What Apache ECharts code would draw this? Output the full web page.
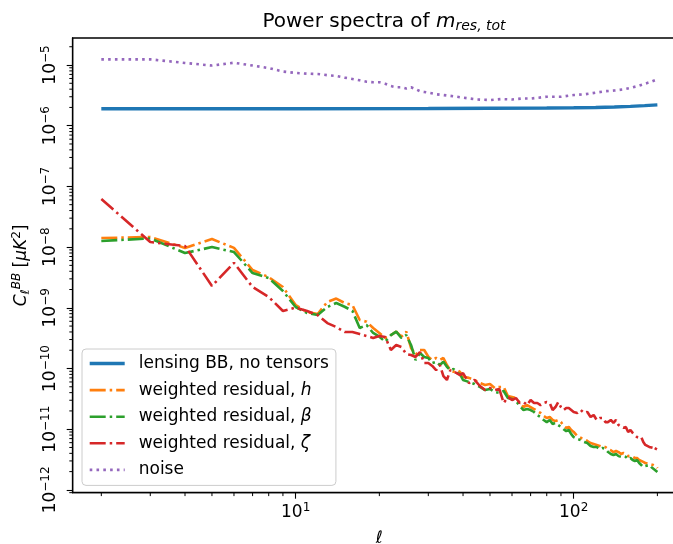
<!DOCTYPE html>
<html><head><meta charset="utf-8">
<script src="https://cdn.jsdelivr.net/npm/echarts@6/dist/echarts.min.js"></script>
<style>html,body{margin:0;padding:0;background:#fff}#c{width:673px;height:544px}</style>
</head><body><div id="c"></div>
<script>
// ---- data ----
const ellRes = [2,3,4,5,6,7,8,9,10,11,12,13,14,15,16,17,18,19,20,21,22,23,24,25,26,27,28,29,30,31,32,33,34,35,36,37,38,39,40,
  42,44,46,48,50,52,54,56,58,60,62,64,66,68,70,72,74,76,78,80,82,84,86,88,90,92,94,96,98,100,
  103,106,109,112,115,118,121,124,127,130,133,136,139,142,145,148,151,154,157,160,163,166,169,172,175,178,181,184,187,190,193,196,199,200];
const resH = [1.41e-8,1.47e-8,9.7e-9,1.36e-8,9.7e-9,4.2e-9,3.2e-9,2.2e-9,1.11e-9,
  8.5e-10,7.9e-10,1.25e-9,1.42e-9,1.2e-9,1.11e-9,6.3e-10,5.9e-10,4.65e-10,3.85e-10,
  3.18e-10,3.56e-10,4.04e-10,3.34e-10,4.04e-10,2.18e-10,1.67e-10,2.02e-10,2.02e-10,1.56e-10,
  1.38e-10,1.49e-10,1.38e-10,1.49e-10,1.14e-10,9.4e-11,8.85e-11,9.4e-11,8.8e-11,7.3e-11,
  7.0e-11,6.47e-11,5.77e-11,5.35e-11,5.56e-11,4.77e-11,4.96e-11,4.96e-11,3.52e-11,3.39e-11,
  3.26e-11,2.70e-11,2.32e-11,2.50e-11,2.32e-11,2.15e-11,1.99e-11,1.85e-11,1.65e-11,1.53e-11,
  1.59e-11,1.42e-11,1.36e-11,1.42e-11,1.31e-11,1.13e-11,1.05e-11,1.09e-11,9.7e-12,9.0e-12,
  7.7e-12,7.2e-12,6.9e-12,6.4e-12,5.9e-12,5.7e-12,5.5e-12,5.3e-12,5.1e-12,5.1e-12,
  4.7e-12,4.5e-12,4.2e-12,4.4e-12,4.2e-12,3.9e-12,4.05e-12,3.9e-12,3.6e-12,3.6e-12,
  3.5e-12,3.35e-12,3.35e-12,3.1e-12,3.0e-12,2.9e-12,2.77e-12,2.77e-12,2.67e-12,2.67e-12,
  2.57e-12,2.48e-12,2.38e-12,2.29e-12];
const resBeta = [1.26e-8,1.39e-8,8.0e-9,1.0e-8,8.3e-9,3.74e-9,3.1e-9,1.89e-9,1.03e-9,
  8.2e-10,7.6e-10,1.03e-9,1.2e-9,1.04e-9,8.9e-10,4.65e-10,5.2e-10,3.85e-10,3.34e-10,
  2.76e-10,3.56e-10,4.04e-10,3.18e-10,3.56e-10,2.44e-10,1.38e-10,1.8e-10,1.55e-10,1.49e-10,
  1.23e-10,1.29e-10,1.14e-10,1.29e-10,1.07e-10,9.4e-11,9.8e-11,8.4e-11,8.1e-11,6.47e-11,
  6.0e-11,5.56e-11,4.96e-11,4.42e-11,4.6e-11,4.1e-11,3.95e-11,4.26e-11,3.26e-11,3.14e-11,
  2.92e-11,2.41e-11,2.07e-11,2.15e-11,2.07e-11,1.92e-11,1.71e-11,1.59e-11,1.42e-11,1.31e-11,
  1.42e-11,1.22e-11,1.27e-11,1.17e-11,1.09e-11,1.0e-11,9.3e-12,9.7e-12,8.3e-12,7.4e-12,
  6.9e-12,6.6e-12,6.15e-12,5.9e-12,5.3e-12,5.1e-12,5.1e-12,4.7e-12,4.9e-12,4.7e-12,
  4.2e-12,3.9e-12,3.75e-12,3.9e-12,3.6e-12,3.5e-12,3.6e-12,3.5e-12,3.2e-12,3.35e-12,
  3.1e-12,3.0e-12,3.1e-12,2.77e-12,2.57e-12,2.38e-12,2.48e-12,2.57e-12,2.57e-12,2.38e-12,
  2.21e-12,2.13e-12,2.05e-12,1.97e-12];
const resZeta = [6.2e-8,1.21e-8,1.04e-8,2.29e-9,5.5e-9,2.2e-9,1.51e-9,8.85e-10,1.01e-9,
  8.85e-10,7.6e-10,5.6e-10,4.83e-10,4.0e-10,4.0e-10,3.7e-10,3.43e-10,3.18e-10,3.43e-10,
  3.3e-10,2.02e-10,2.44e-10,2.26e-10,1.73e-10,1.67e-10,1.55e-10,1.87e-10,1.23e-10,1.23e-10,
  1.1e-10,9.4e-11,1.14e-10,7.5e-11,6.47e-11,9.4e-11,8.8e-11,8.4e-11,7.8e-11,8.4e-11,
  5.77e-11,6.47e-11,5.15e-11,4.42e-11,4.77e-11,4.42e-11,4.6e-11,2.7e-11,3.39e-11,3.03e-11,
  3.26e-11,2.7e-11,2.8e-11,2.5e-11,3.03e-11,2.7e-11,2.7e-11,2.5e-11,2.7e-11,2.8e-11,
  2.7e-11,2.07e-11,2.32e-11,2.8e-11,2.32e-11,2.07e-11,2.23e-11,2.23e-11,2.07e-11,1.92e-11,
  1.85e-11,2.07e-11,1.85e-11,1.92e-11,1.59e-11,1.71e-11,1.42e-11,1.53e-11,1.53e-11,1.31e-11,
  1.31e-11,1.42e-11,1.27e-11,1.42e-11,1.17e-11,1.09e-11,1.05e-11,1.09e-11,9.0e-12,9.7e-12,
  8.7e-12,8.0e-12,7.4e-12,7.2e-12,7.4e-12,6.15e-12,5.5e-12,5.9e-12,5.1e-12,5.5e-12,
  4.9e-12,4.5e-12,5.1e-12,4.9e-12];
const ellLens = [2,10,30,50,80,100,120,140,160,180,200];
const lensBB = [1.9e-6,1.9e-6,1.92e-6,1.94e-6,1.96e-6,1.98e-6,2.0e-6,2.03e-6,2.08e-6,2.14e-6,2.2e-6];
const ellNoise = [2,3,4,5,6,7,8,9,10,11,12,13,14,15,16,17,18,19,20,21,22,23,24,25,26,27,28,29,30,32,34,36,38,40,45,50,55,60,65,70,80,90,100,110,120,130,140,150,160,170,180,190,200];
const noise = [1.24e-5,1.24e-5,1.08e-5,9.8e-6,1.09e-5,9.8e-6,8.9e-6,7.8e-6,7.4e-6,7.2e-6,7.1e-6,6.8e-6,6.6e-6,6.2e-6,5.9e-6,5.6e-6,5.3e-6,5.2e-6,5.2e-6,4.9e-6,4.5e-6,4.3e-6,4.3e-6,4.1e-6,4.3e-6,4.0e-6,3.7e-6,3.6e-6,3.5e-6,3.3e-6,3.2e-6,3.1e-6,3.0e-6,2.9e-6,2.7e-6,2.65e-6,2.75e-6,2.7e-6,2.8e-6,2.8e-6,3.0e-6,3.0e-6,3.2e-6,3.3e-6,3.5e-6,3.7e-6,3.8e-6,3.95e-6,4.2e-6,4.5e-6,4.9e-6,5.3e-6,5.8e-6];
const seriesNames = ['lensing BB, no tensors','weighted residual, h','weighted residual, \u03b2','weighted residual, \u03b6','noise'];
const xTickValues = [10, 100];
const yTickValues = [1e-12,1e-11,1e-10,1e-9,1e-8,1e-7,1e-6,1e-5];
const xMinorTicks = [2,3,4,5,6,7,8,9,20,30,40,50,60,70,80,90,200];
const yMinorTicks = [];
[-13,-12,-11,-10,-9,-8,-7,-6,-5].forEach(function(e){ for (let m=2;m<=9;m++) yMinorTicks.push(m*Math.pow(10,e)); });
const X_MIN = 1.578, X_MAX = 253.5, Y_MIN = 8.99e-13, Y_MAX = 2.786e-5;

// ---- chart ----
const FONT = "'DejaVu Sans', sans-serif";
const zip = (xs, ys) => xs.map((x, i) => [x, ys[i]]);
function powLabel(v){
  const lg = Math.log10(v), e = Math.round(lg);
  if (Math.abs(lg - e) > 1e-6) return '';
  const s = e < 0 ? '\u2212' + (-e) : '' + e;
  return '{b|10}{s|' + s + '}';
}
const tickRich = {
  b: {fontSize: 17, fontFamily: FONT, color: '#000'},
  s: {fontSize: 12, fontFamily: FONT, color: '#000', padding: [0, 0, 10, 0]}
};
const chart = echarts.init(document.getElementById('c'), null, {renderer: 'canvas'});
const inRange = (v, a, b) => v > a && v < b;
function minorSeries(data, isX){
  return {
    type: 'custom', coordinateSystem: 'cartesian2d', silent: true, clip: false, z: 6,
    data: data,
    renderItem: function(params, api){
      const p = api.coord([api.value(0), api.value(1)]);
      const shape = isX ? {x1: p[0], y1: p[1], x2: p[0], y2: p[1] + 3.4}
                        : {x1: p[0] - 3.4, y1: p[1], x2: p[0], y2: p[1]};
      return {type: 'line', shape: shape, style: {stroke: '#000', lineWidth: 1}};
    }
  };
}
const dashDot = [16, 4, 2.5, 4];
chart.setOption({
  animation: false,
  backgroundColor: '#fff',
  title: {
    text: 'Power spectra of {i|m}{sub|res, tot}',
    left: 379, top: 6, textAlign: 'center',
    textStyle: {
      fontSize: 20, fontWeight: 'normal', fontFamily: FONT, color: '#000',
      rich: {
        i: {fontSize: 20, fontStyle: 'italic', fontFamily: FONT, color: '#000'},
        sub: {fontSize: 14, fontStyle: 'italic', fontFamily: FONT, color: '#000', padding: [8, 0, 0, 0]}
      }
    }
  },
  grid: {left: 72.7, top: 38, width: 613.3, height: 454.7, show: true, borderColor: '#000', borderWidth: 1.3, containLabel: false, outerBoundsMode: 'none'},
  legend: {
    data: seriesNames,
    orient: 'vertical', left: 82, top: 349,
    itemWidth: 35, itemHeight: 17, itemGap: 9.6,
    padding: [6, 7, 7, 6],
    itemStyle: {color: 'rgba(0,0,0,0)', borderWidth: 0, opacity: 0},
    lineStyle: {width: 'inherit', type: 'inherit', color: 'inherit'},
    backgroundColor: 'rgba(255,255,255,0.8)', borderColor: '#cccccc', borderWidth: 1, borderRadius: 4,
    formatter: function(name){ return name.replace(/, (h|\u03b2|\u03b6)$/, ', {i|$1}'); },
    textStyle: {fontSize: 17, fontFamily: FONT, color: '#000', lineHeight: 17, padding: [0, 0, 0, 9],
      rich: {i: {fontSize: 17, fontStyle: 'italic', fontFamily: FONT, color: '#000'}}}
  },
  xAxis: {
    type: 'log', logBase: 10, min: X_MIN, max: X_MAX,
    axisLine: {show: true, lineStyle: {color: '#000', width: 1.3}},
    axisTick: {show: true, length: 6, lineStyle: {color: '#000', width: 1.1}, customValues: xTickValues},
    axisLabel: {show: true, margin: 9, formatter: powLabel, rich: tickRich, customValues: xTickValues},
    splitLine: {show: false}, minorTick: {show: false},
    name: '\u2113', nameLocation: 'middle', nameGap: 37,
    nameTextStyle: {fontSize: 17, fontStyle: 'italic', fontFamily: FONT, color: '#000'}
  },
  yAxis: {
    type: 'log', logBase: 10, min: Y_MIN, max: Y_MAX,
    axisLine: {show: true, lineStyle: {color: '#000', width: 1.3}},
    axisTick: {show: true, length: 6, lineStyle: {color: '#000', width: 1.1}, customValues: yTickValues},
    axisLabel: {show: true, rotate: 90, margin: 11, formatter: powLabel, rich: tickRich, customValues: yTickValues},
    splitLine: {show: false}, minorTick: {show: false},
    name: '{c|C}{l|\u2113}{ui|BB} [{c|\u03bcK}{u|2}]', nameLocation: 'middle', nameRotate: 90, nameGap: 29,
    nameTextStyle: {fontSize: 17, fontFamily: FONT, color: '#000',
      rich: {
        c: {fontSize: 17, fontStyle: 'italic', fontFamily: FONT, color: '#000'},
        l: {fontSize: 12, fontStyle: 'italic', fontFamily: FONT, color: '#000', padding: [8, 0, 0, 0]},
        ui: {fontSize: 12, fontStyle: 'italic', fontFamily: FONT, color: '#000', padding: [0, 0, 10, 0]},
        u: {fontSize: 12, fontFamily: FONT, color: '#000', padding: [0, 0, 10, 0]}
      }}
  },
  series: [
    {name: seriesNames[0], type: 'line', data: zip(ellLens, lensBB), symbol: 'none', smooth: false,
     lineStyle: {color: '#1f77b4', width: 3.4}, itemStyle: {color: '#1f77b4'}, z: 2},
    {name: seriesNames[1], type: 'line', data: zip(ellRes, resH), symbol: 'none',
     lineStyle: {color: '#ff7f0e', width: 2.6, type: dashDot}, itemStyle: {color: '#ff7f0e'}, z: 3},
    {name: seriesNames[2], type: 'line', data: zip(ellRes, resBeta), symbol: 'none',
     lineStyle: {color: '#2ca02c', width: 2.6, type: dashDot}, itemStyle: {color: '#2ca02c'}, z: 4},
    {name: seriesNames[3], type: 'line', data: zip(ellRes, resZeta), symbol: 'none',
     lineStyle: {color: '#d62728', width: 2.6, type: dashDot}, itemStyle: {color: '#d62728'}, z: 5},
    {name: seriesNames[4], type: 'line', data: zip(ellNoise, noise), symbol: 'none',
     lineStyle: {color: '#9467bd', width: 2.6, type: [2.6, 4.2]}, itemStyle: {color: '#9467bd'}, z: 5},
    minorSeries(xMinorTicks.filter(v => inRange(v, X_MIN, X_MAX)).map(v => [v, Y_MIN]), true),
    minorSeries(yMinorTicks.filter(v => inRange(v, Y_MIN, Y_MAX)).map(v => [X_MIN, v]), false)
  ]
});
</script></body></html>
